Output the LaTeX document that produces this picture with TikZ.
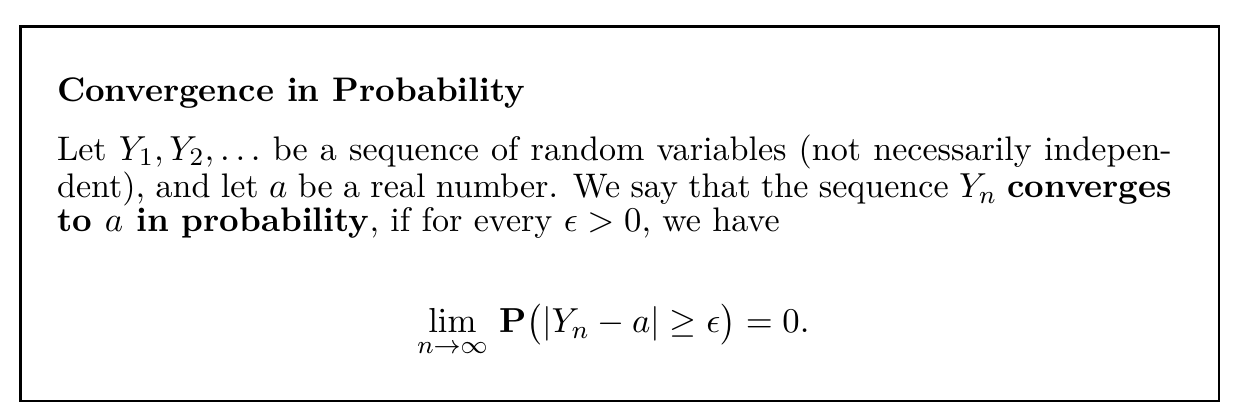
\documentclass[tikz,border=0pt]{standalone}
\usepackage{amsmath,amssymb}
\begin{document}
\begin{tikzpicture}[x=1pt,y=-1pt,
  frame/.style={line width=0.8pt},
  txt/.style={inner sep=0pt,outer sep=0pt,font=\fontsize{10.75pt}{10.5pt}\selectfont}]
\useasboundingbox (0,0) rectangle (389.3,131.5);
\draw[frame] (6.5,8.4) rectangle (384.5,126.5);
\node[txt,anchor=base west] (title) at (18,31.9) {\bfseries Convergence in Probability};
\node[txt,anchor=base west,text width=351.7pt,align=justify] (body) at (18,50.7)
 {Let $Y_1, Y_2, \ldots$ be a sequence of random variables (not necessarily indepen-\linebreak dent), and let $a$ be a real number. We say that the sequence $Y_n$ \textbf{converges}\linebreak \textbf{to $a$ in probability}, if for every $\epsilon>0$, we have\par};
\node[txt,anchor=base] (eq) at (193.5,105)
 {$\displaystyle\lim_{n\to\infty}\,\mathbf{P}\bigl(|Y_n-a|\ge\epsilon\bigr)=0.$};
\end{tikzpicture}
\end{document}
